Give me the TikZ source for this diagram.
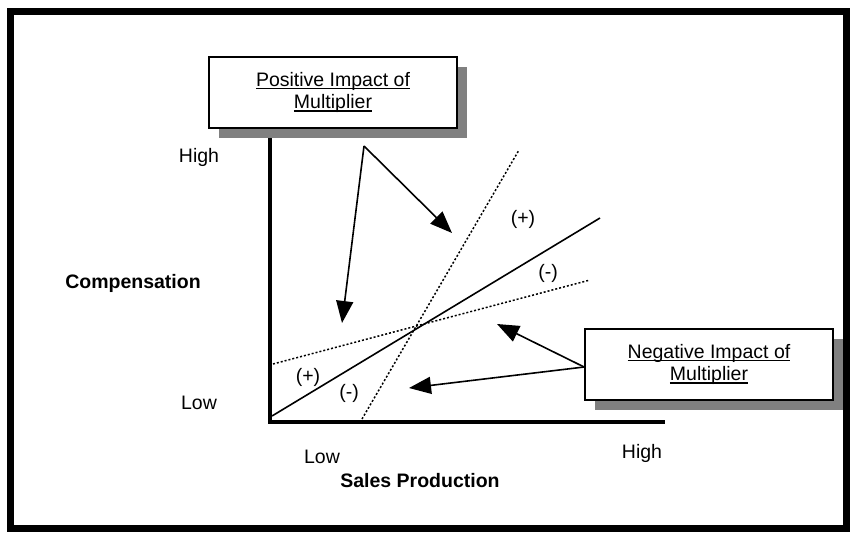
\documentclass[tikz,border=0pt]{standalone}
\usepackage{fontspec}
\setmainfont{Liberation Sans}
\newcommand\uln[1]{\setbox0\hbox{#1}\rlap{\rule[-3pt]{\wd0}{1.3pt}}\box0}
\usetikzlibrary{arrows.meta,shadows}
\tikzset{>={Triangle[length=22pt,width=17pt]}}

\begin{document}
\begin{tikzpicture}[x=1pt,y=-1pt,font=\fontsize{19.5}{22.5}\selectfont,
  impact/.style={draw,line width=1.8pt,fill=white,minimum width=248pt,minimum height=71pt,
    inner sep=0pt,align=center,
    drop shadow={shadow xshift=10pt,shadow yshift=-10pt,fill=black!50,opacity=1}},
  pointer/.style={->,line width=1.6pt},
  guide/.style={line width=1.5pt,dash pattern=on 2pt off 2pt}]
  \useasboundingbox (0,0) rectangle (854,533);
  \draw[line width=7pt] (10,11.5) rectangle (846.5,528.5);
  % axes
  \coordinate (o) at (270,422);
  \coordinate (ytop) at (270,138);
  \coordinate (xend) at (665,422);
  \draw[line width=4pt] (ytop) -- (o) -- (xend);
  \node (yhigh) at (199,157) {High};
  \node (ylow) at (199,403) {Low};
  \node[font=\fontsize{19.5}{22.5}\selectfont\bfseries] (ylabel) at (133,283) {Compensation};
  \node (xlow) at (322,457) {Low};
  \node (xhigh) at (642,453) {High};
  \node[font=\fontsize{19.5}{22.5}\selectfont\bfseries] (xlabel) at (420,481) {Sales Production};
  % lines
  \draw[line width=1.6pt] (272,416) -- (600,218);
  \draw[guide] (273,364) -- (590,280);
  \draw[guide] (362,419) -- (519,150);
  \node (p1) at (308,377) {(+)};
  \node (m1) at (349,393) {(-)};
  \node (p2) at (523,219) {(+)};
  \node (m2) at (548,273) {(-)};
  % boxes
  \node[impact] (pos) at (333,92.5) {\uln{Positive Impact of}\\\uln{Multiplier}};
  \node[impact] (neg) at (709,364.5) {\uln{Negative Impact of}\\\uln{Multiplier}};
  \coordinate (fork) at (364,146);
  \coordinate (pa) at (342,323);
  \coordinate (pb) at (452,233);
  \coordinate (na) at (497,324);
  \coordinate (nb) at (409,388);
  \draw[pointer] (fork) -- (pa);
  \draw[pointer] (fork) -- (pb);
  \draw[pointer] ([yshift=-2.5pt]neg.west) -- (na);
  \draw[pointer] ([yshift=-2.5pt]neg.west) -- (nb);
\end{tikzpicture}
\end{document}
